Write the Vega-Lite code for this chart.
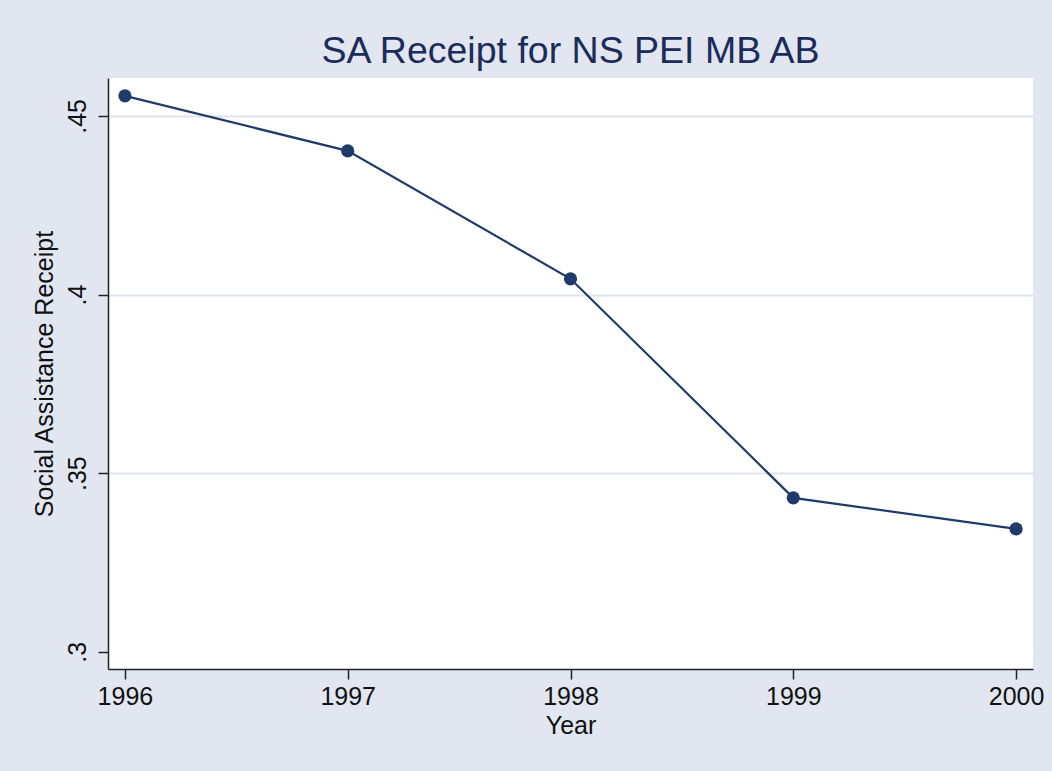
{
  "$schema": "https://vega.github.io/schema/vega-lite/v6.json",
  "autosize": {"type": "none"},
  "width": 925,
  "height": 591,
  "padding": {"left": 108, "top": 78, "right": 19, "bottom": 102},
  "background": "#e1e6f0",
  "config": {
    "view": {"fill": "white", "stroke": null},
    "font": "Liberation Sans"
  },
  "title": {
    "text": "SA Receipt for NS PEI MB AB",
    "fontSize": 37.5,
    "fontWeight": "normal",
    "color": "#1c2c5a",
    "font": "Liberation Sans",
    "offset": 8,
    "anchor": "middle"
  },
  "data": {
    "values": [
      {"year": 1996, "sa": 0.4556},
      {"year": 1997, "sa": 0.4402},
      {"year": 1998, "sa": 0.4044},
      {"year": 1999, "sa": 0.3431},
      {"year": 2000, "sa": 0.3344}
    ]
  },
  "encoding": {
    "x": {
      "field": "year",
      "type": "quantitative",
      "title": "Year",
      "scale": {"domain": [1995.924, 2000.076], "nice": false, "zero": false},
      "axis": {
        "values": [1996, 1997, 1998, 1999, 2000],
        "format": "d",
        "grid": false,
        "domainColor": "#222222",
        "domainWidth": 1.5,
        "tickColor": "#222222",
        "tickWidth": 1.5,
        "tickSize": 10,
        "labelFontSize": 25,
        "labelColor": "#111111",
        "labelPadding": 5,
        "labelFlush": false,
        "titleFontSize": 25,
        "titleFontWeight": "normal",
        "titleColor": "#111111",
        "titlePadding": 4
      }
    },
    "y": {
      "field": "sa",
      "type": "quantitative",
      "title": "Social Assistance Receipt",
      "scale": {"domain": [0.2952, 0.4606], "nice": false, "zero": false},
      "axis": {
        "values": [0.3, 0.35, 0.4, 0.45],
        "labelExpr": "substring(format(datum.value, '.2~f'), 1)",
        "grid": true,
        "gridColor": {"condition": {"test": "datum.value < 0.31", "value": "white"}, "value": "#dfe4ee"},
        "gridWidth": 2,
        "domainColor": "#222222",
        "domainWidth": 1.5,
        "tickColor": "#222222",
        "tickWidth": 1.5,
        "tickSize": 10,
        "labelAngle": -90,
        "labelAlign": "center",
        "labelBaseline": "bottom",
        "labelFontSize": 25,
        "labelColor": "#111111",
        "labelPadding": 8,
        "labelFlush": false,
        "titleFontSize": 25,
        "titleFontWeight": "normal",
        "titleColor": "#111111",
        "titlePadding": 8
      }
    }
  },
  "layer": [
    {"mark": {"type": "line", "color": "#1f3a6b", "strokeWidth": 2.2}},
    {"mark": {"type": "point", "filled": true, "color": "#1f3a6b", "opacity": 1, "size": 175}}
  ]
}
